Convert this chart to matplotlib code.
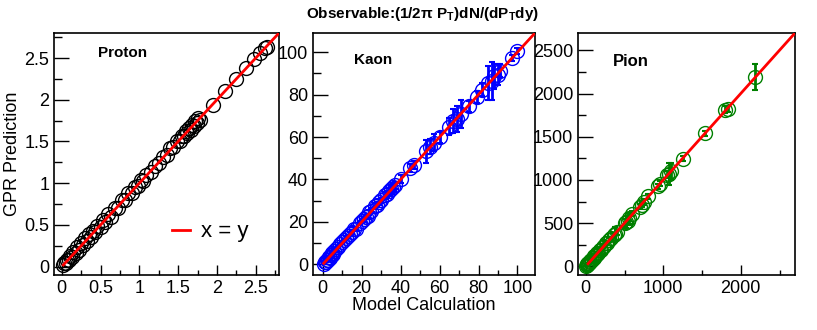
import numpy as np
import matplotlib.pyplot as plt
from matplotlib.ticker import MultipleLocator, FormatStrFormatter

plt.rcParams['font.family'] = ['Liberation Sans', 'DejaVu Sans']
plt.rcParams['mathtext.fontset'] = 'custom'
plt.rcParams['mathtext.bf'] = 'Liberation Sans:bold'
plt.rcParams['mathtext.rm'] = 'Liberation Sans'

# proton: model calculation vs GPR prediction
proton_x = [0.02, 0.03, 0.05, 0.07, 0.09, 0.11, 0.13, 0.15, 0.18, 0.20, 0.22, 0.25, 0.28, 0.30,
            0.33, 0.35, 0.38, 0.40, 0.43, 0.46, 0.50, 0.53, 0.56, 0.60, 0.63, 0.68, 0.72, 0.78,
            0.82, 0.86, 0.90, 0.94, 0.98, 1.02, 1.05, 1.08, 1.15, 1.20, 1.25, 1.30, 1.35, 1.40,
            1.44, 1.48, 1.52, 1.55, 1.58, 1.60, 1.62, 1.64, 1.66, 1.68, 1.70, 1.72, 1.74, 1.76,
            1.78, 1.95, 2.10, 2.25, 2.38, 2.48, 2.56, 2.62, 2.65]
proton_y = [0.02, 0.04, 0.04, 0.08, 0.08, 0.13, 0.12, 0.17, 0.16, 0.23, 0.20, 0.28, 0.26, 0.34,
            0.31, 0.39, 0.36, 0.43, 0.41, 0.49, 0.48, 0.56, 0.54, 0.63, 0.60, 0.70, 0.70, 0.80,
            0.80, 0.88, 0.88, 0.96, 0.97, 1.04, 1.03, 1.10, 1.14, 1.21, 1.24, 1.32, 1.34, 1.42,
            1.43, 1.50, 1.51, 1.57, 1.56, 1.62, 1.60, 1.66, 1.64, 1.70, 1.68, 1.74, 1.72, 1.78,
            1.76, 1.94, 2.11, 2.25, 2.38, 2.49, 2.56, 2.62, 2.63]

# kaon
kaon_x = [0.5, 1, 1.5, 2, 2.5, 3, 3.5, 4, 4.5, 5, 5.5, 6, 7, 8, 9, 10, 11, 12, 13, 14, 15, 16,
          17, 19, 20, 21, 22, 23, 24, 25, 27, 28, 29, 30, 32, 33, 34, 35, 36, 37, 40, 45, 47,
          53, 55, 57, 60, 65, 67, 69, 71, 75, 79, 82, 85, 87, 88, 90, 91, 97, 100]
kaon_y = [0.3, 1.2, 1.3, 2.3, 2.2, 3.3, 3.2, 4.3, 4.2, 5.4, 5.1, 6.4, 7.3, 8.2, 9.5, 10.4, 11.3,
          12.5, 13.2, 14.4, 15.3, 16.5, 16.8, 19.5, 20.3, 21.2, 22.4, 22.8, 24.5, 25.2, 27.5,
          28.2, 29.6, 30.1, 32.5, 33.2, 34.5, 35.3, 36.4, 37.2, 40.3, 45.5, 46.8, 53.2, 55.5,
          57.2, 59.8, 64.8, 67.5, 68.5, 70.8, 74.5, 78.8, 82.3, 85.5, 86.5, 88.6, 89.4, 91.2,
          97.3, 100.4]
kaon_err = [0.2, 0.2, 0.2, 0.3, 0.3, 0.3, 0.3, 0.3, 0.4, 0.4, 0.4, 0.5, 0.5, 0.5, 0.6, 0.6,
            0.6, 0.7, 0.7, 0.8, 0.8, 0.9, 0.9, 1.0, 1.0, 1.0, 1.1, 1.1, 1.2, 1.2, 1.3, 1.3, 1.4,
            1.4, 1.5, 1.5, 1.6, 1.6, 1.7, 1.7, 1.8, 2.0, 2.0, 5.5, 3.5, 4.0, 2.5, 4.0, 5.5, 6.0,
            6.5, 2.5, 3.0, 3.0, 8.0, 9.0, 6.0, 5.0, 3.0, 1.5, 1.5]

# pion
pion_x = [5, 10, 15, 20, 25, 30, 40, 50, 60, 70, 80, 90, 100, 110, 120, 130, 140, 150, 160,
          180, 200, 220, 240, 260, 280, 300, 330, 360, 380, 400, 500, 520, 540, 560, 600, 700,
          720, 750, 800, 930, 960, 1050, 1080, 1100, 1250, 1540, 1800, 1830, 2190]
pion_y = [5, 15, 12, 25, 22, 35, 38, 55, 58, 75, 78, 95, 98, 115, 118, 135, 138, 155, 160, 185,
          195, 225, 235, 265, 275, 305, 325, 365, 375, 395, 505, 515, 530, 555, 610, 690, 715,
          745, 810, 925, 955, 1060, 1070, 1100, 1245, 1540, 1810, 1820, 2190]
pion_err = [2, 2, 3, 3, 4, 4, 5, 5, 6, 6, 7, 7, 8, 8, 9, 9, 10, 10, 10, 12, 12, 14, 14, 15, 16,
            18, 20, 25, 80, 30, 40, 70, 40, 60, 30, 30, 30, 30, 30, 30, 30, 40, 130, 100, 30,
            30, 40, 30, 150]

title = r"Observable:(1/2π P$_\mathbf{T}$)dN/(dP$_\mathbf{T}$dy)"

fig = plt.figure(figsize=(8.17, 3.3), dpi=100)

panels = [
    ([54, 225], proton_x, proton_y, None, 'black', 'Proton', 11, (-0.1, 2.8), 0.5, 0.25, 0.5, 0.25, 0.02, (0.195, 0.90)),
    ([313, 222], kaon_x, kaon_y, kaon_err, 'blue', 'Kaon', 11, (-5, 109), 20, 10, 20, 10, 0.5, (0.185, 0.87)),
    ([578, 217], pion_x, pion_y, pion_err, 'green', 'Pion', 12, (-100, 2700), 1000, 500, 500, 250, 30, (0.16, 0.865)),
]

axes = []
for pos, x, y, err, col, name, fs, lim, xmaj, xmin_, ymaj, ymin_, start, lab in panels:
    ax = fig.add_axes([pos[0] / 817, 55 / 330, pos[1] / 817, 242 / 330])
    if err is not None:
        ax.errorbar(x, y, yerr=err, fmt='none', ecolor=col, elinewidth=2, capsize=2, capthick=1.5, zorder=2)
    ax.plot(x, y, 'o', mfc='none', mec=col, ms=10, mew=1, zorder=3)
    ax.plot([start, lim[1]], [start, lim[1]], color='red', lw=2, zorder=4, label='x = y')
    ax.set_xlim(lim)
    ax.set_ylim(lim)
    ax.xaxis.set_major_locator(MultipleLocator(xmaj))
    ax.xaxis.set_minor_locator(MultipleLocator(xmin_))
    ax.yaxis.set_major_locator(MultipleLocator(ymaj))
    ax.yaxis.set_minor_locator(MultipleLocator(ymin_))
    ax.xaxis.set_major_formatter(FormatStrFormatter('%g'))
    ax.yaxis.set_major_formatter(FormatStrFormatter('%g'))
    ax.tick_params(axis='both', which='both', direction='in', labelsize=13, width=1)
    ax.tick_params(axis='y', which='major', length=11)
    ax.tick_params(axis='y', which='minor', length=6)
    ax.tick_params(axis='x', which='major', length=7)
    ax.tick_params(axis='x', which='minor', length=3.5)
    for s in ax.spines.values():
        s.set_linewidth(1.2)
    ax.text(lab[0], lab[1], name, transform=ax.transAxes, fontsize=fs, fontweight='bold')
    axes.append(ax)

axes[0].set_ylabel('GPR Prediction', fontsize=13, labelpad=2)
axes[1].set_xlabel('Model Calculation', fontsize=13, labelpad=0)
axes[0].legend(loc='center left', frameon=False, fontsize=16, handlelength=0.8,
               handletextpad=0.5, borderpad=0, borderaxespad=0, bbox_to_anchor=(0.524, 0.178))
fig.text(423 / 817, 1 - 14 / 330, title, ha='center', va='center', fontsize=11, fontweight='bold')

fig.savefig('out.png', dpi=100)
